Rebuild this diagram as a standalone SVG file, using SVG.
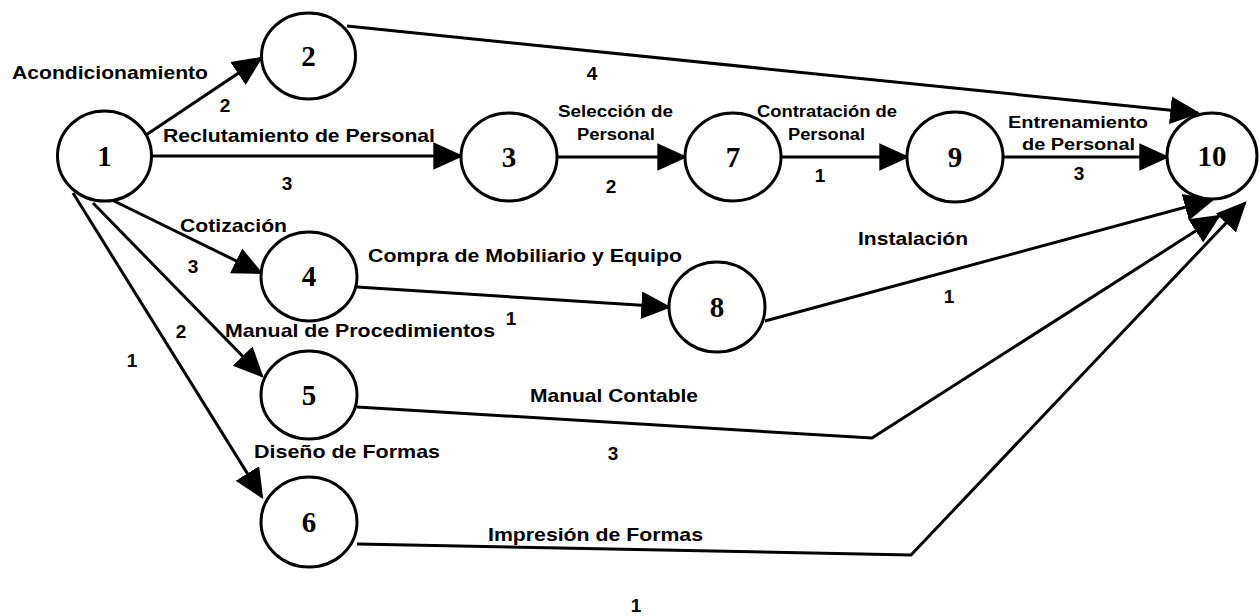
<svg xmlns="http://www.w3.org/2000/svg" width="1259" height="616" viewBox="0 0 1259 616">
<style>
.n ellipse{fill:#fff;stroke:#000;stroke-width:3}
.n text{font-family:"Liberation Serif","Times New Roman",serif;font-weight:bold;font-size:29px;text-anchor:middle;fill:#000}
.c line,.c polyline{fill:none;stroke:#000;stroke-width:3;marker-end:url(#ah)}
.l{font-family:"Liberation Sans",Arial,sans-serif;font-weight:bold;font-size:19px;fill:#000}
.s{font-size:16px}
.m{text-anchor:middle}
</style>
<defs>
<marker id="ah" markerUnits="userSpaceOnUse" markerWidth="30" markerHeight="30" viewBox="0 0 26 24" refX="24" refY="12" orient="auto">
<path d="M0,0 L26,12 L0,24 Z" fill="#000"/>
</marker>
</defs>
<g class="c" id="connectors">
<line x1="143" y1="137" x2="261" y2="58"/>
<line x1="152" y1="156" x2="461" y2="156"/>
<line x1="112" y1="200" x2="261" y2="273"/>
<line x1="93" y1="203" x2="262" y2="376"/>
<line x1="73" y1="193" x2="262" y2="497"/>
<line x1="347" y1="26" x2="1198" y2="113"/>
<line x1="557" y1="157" x2="685" y2="157"/>
<line x1="781" y1="157" x2="907" y2="157"/>
<line x1="1003" y1="157" x2="1167" y2="157"/>
<line x1="357" y1="287" x2="669" y2="307"/>
<line x1="765" y1="321" x2="1212" y2="200"/>
<polyline points="357,407 872,438 1219,216"/>
<polyline points="357,544 911,555 1245,203"/>
</g>
<g class="n" id="node1"><ellipse cx="104.5" cy="156" rx="47" ry="45"/><text x="104.5" y="166">1</text></g>
<g class="n" id="node2"><ellipse cx="308.5" cy="56" rx="47" ry="43"/><text x="308.5" y="66">2</text></g>
<g class="n" id="node3"><ellipse cx="509" cy="157" rx="48" ry="44"/><text x="509" y="167">3</text></g>
<g class="n" id="node4"><ellipse cx="309" cy="276.5" rx="48" ry="44.5"/><text x="309" y="286">4</text></g>
<g class="n" id="node5"><ellipse cx="309" cy="395" rx="48" ry="44"/><text x="309" y="405">5</text></g>
<g class="n" id="node6"><ellipse cx="309" cy="522" rx="48" ry="45"/><text x="309" y="532">6</text></g>
<g class="n" id="node7"><ellipse cx="733" cy="157" rx="48" ry="44"/><text x="733" y="167">7</text></g>
<g class="n" id="node8"><ellipse cx="717" cy="307" rx="48" ry="45"/><text x="717" y="317">8</text></g>
<g class="n" id="node9"><ellipse cx="955" cy="157" rx="48" ry="45"/><text x="955" y="167">9</text></g>
<g class="n" id="node10"><ellipse cx="1212" cy="156" rx="45" ry="43"/><text x="1212" y="166">10</text></g>
<g id="labels">
<text class="l" x="12" y="79" textLength="196" lengthAdjust="spacingAndGlyphs">Acondicionamiento</text>
<text class="l m" x="225" y="112">2</text>
<text class="l" x="163" y="142" textLength="272" lengthAdjust="spacingAndGlyphs">Reclutamiento de Personal</text>
<text class="l m" x="287" y="190">3</text>
<text class="l m" x="592" y="80">4</text>
<text class="l s" x="558" y="117" textLength="115" lengthAdjust="spacingAndGlyphs">Selección de</text>
<text class="l s" x="577" y="140" textLength="78" lengthAdjust="spacingAndGlyphs">Personal</text>
<text class="l m" x="611" y="193">2</text>
<text class="l s" x="757" y="117" textLength="140" lengthAdjust="spacingAndGlyphs">Contratación de</text>
<text class="l s" x="788" y="140" textLength="77" lengthAdjust="spacingAndGlyphs">Personal</text>
<text class="l m" x="820" y="182">1</text>
<text class="l s" x="1008" y="128" textLength="140" lengthAdjust="spacingAndGlyphs">Entrenamiento</text>
<text class="l s" x="1022" y="150" textLength="113" lengthAdjust="spacingAndGlyphs">de Personal</text>
<text class="l m" x="1079" y="180">3</text>
<text class="l" x="858" y="245" textLength="110" lengthAdjust="spacingAndGlyphs">Instalación</text>
<text class="l m" x="949" y="303">1</text>
<text class="l" x="180" y="232" textLength="107" lengthAdjust="spacingAndGlyphs">Cotización</text>
<text class="l m" x="193" y="273">3</text>
<text class="l" x="368" y="262" textLength="314" lengthAdjust="spacingAndGlyphs">Compra de Mobiliario y Equipo</text>
<text class="l m" x="511" y="325">1</text>
<text class="l" x="225" y="337" textLength="270" lengthAdjust="spacingAndGlyphs">Manual de Procedimientos</text>
<text class="l m" x="181" y="338">2</text>
<text class="l m" x="132" y="367">1</text>
<text class="l" x="530" y="402" textLength="168" lengthAdjust="spacingAndGlyphs">Manual Contable</text>
<text class="l m" x="613" y="460">3</text>
<text class="l" x="254" y="458" textLength="186" lengthAdjust="spacingAndGlyphs">Diseño de Formas</text>
<text class="l" x="488" y="541" textLength="215" lengthAdjust="spacingAndGlyphs">Impresión de Formas</text>
<text class="l m" x="636" y="612">1</text>
</g>
</svg>
